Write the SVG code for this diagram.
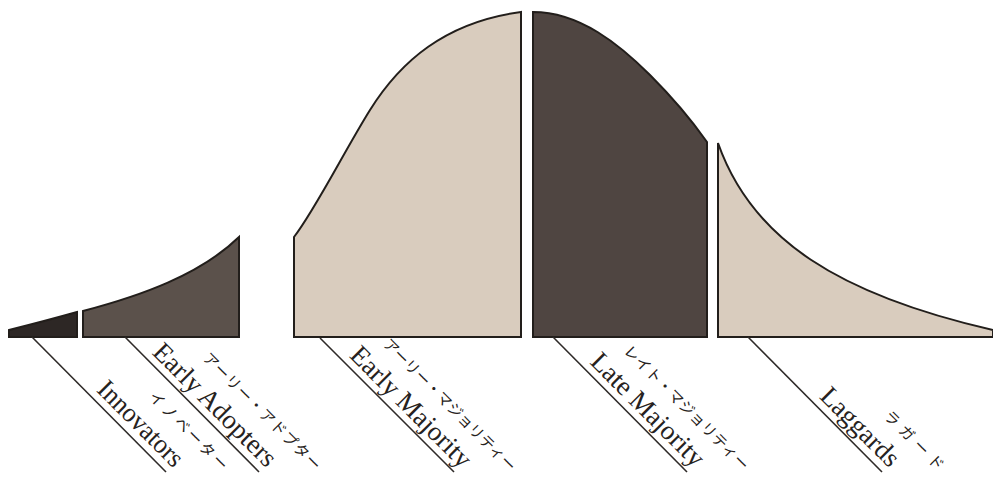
<svg xmlns="http://www.w3.org/2000/svg" width="993" height="498" viewBox="0 0 993 498">
<style>
.shape{stroke:#221e1b;stroke-width:2;stroke-linejoin:miter}
.light{fill:#d9ccbe}
.dark{fill:#4f4541}
.mid{fill:#5b514b}
.darkest{fill:#2d2725}
.en{font-family:"Liberation Serif","Times New Roman",serif;font-size:27px;fill:#262220;text-anchor:end}
.jp{font-family:"Noto Sans CJK JP","Noto Sans",sans-serif;font-size:15px;fill:#262220;text-anchor:end}
.lead{stroke:#2e2a28;stroke-width:1.6;fill:none}
</style>
<rect width="993" height="498" fill="#ffffff"/>
<g id="innovators">
<path class="shape darkest" d="M9,337 L9,330 Q45,321 77,312 L77,337 Z"/>
<g transform="translate(32,337) rotate(45)">
<text class="en" x="193" y="-7" textLength="110" lengthAdjust="spacingAndGlyphs">Innovators</text>
<text class="jp" x="229" y="-39" textLength="104" lengthAdjust="spacing">イノベーター</text>
</g>
</g>
<g id="early-adopters">
<path class="shape mid" d="M83,337 L83,311 C140,296 200,275 239,237 L239,337 Z"/>
<g transform="translate(125,337) rotate(45)">
<text class="en" x="193" y="-7">Early Adopters</text>
<text class="jp" x="229" y="-39" textLength="159" lengthAdjust="spacing">アーリー・アドプター</text>
</g>
</g>
<g id="early-majority">
<path class="shape light" d="M294,337 L294,237 C315,210 345,150 370,110 C400,62 445,22 521,12 L521,337 Z"/>
<g transform="translate(320,338) rotate(45)">
<text class="en" x="193" y="-7">Early Majority</text>
<text class="jp" x="229" y="-39" textLength="180" lengthAdjust="spacing">アーリー・マジョリティー</text>
</g>
</g>
<g id="late-majority">
<path class="shape dark" d="M533,337 L533,12 C580,12 620,45 650,75 C675,100 695,125 707,142 L707,337 Z"/>
<g transform="translate(553,337) rotate(45)">
<text class="en" x="193" y="-7">Late Majority</text>
<text class="jp" x="229" y="-39" textLength="169" lengthAdjust="spacing">レイト・マジョリティー</text>
</g>
</g>
<g id="laggards">
<path class="shape light" d="M718,337 L718,143 C752,240 840,295 993,330 L993,337 Z"/>
<g transform="translate(748,337) rotate(45)">
<text class="en" x="193" y="-7">Laggards</text>
<text class="jp" x="229" y="-39" textLength="77" lengthAdjust="spacing">ラガード</text>
</g>
</g>
<g id="connectors">
<line class="lead" x1="32" y1="337" x2="166" y2="472"/>
<line class="lead" x1="125" y1="337" x2="259" y2="472"/>
<line class="lead" x1="320" y1="338" x2="454" y2="472"/>
<line class="lead" x1="553" y1="337" x2="687" y2="472"/>
<line class="lead" x1="748" y1="337" x2="882" y2="472"/>
</g>
</svg>
